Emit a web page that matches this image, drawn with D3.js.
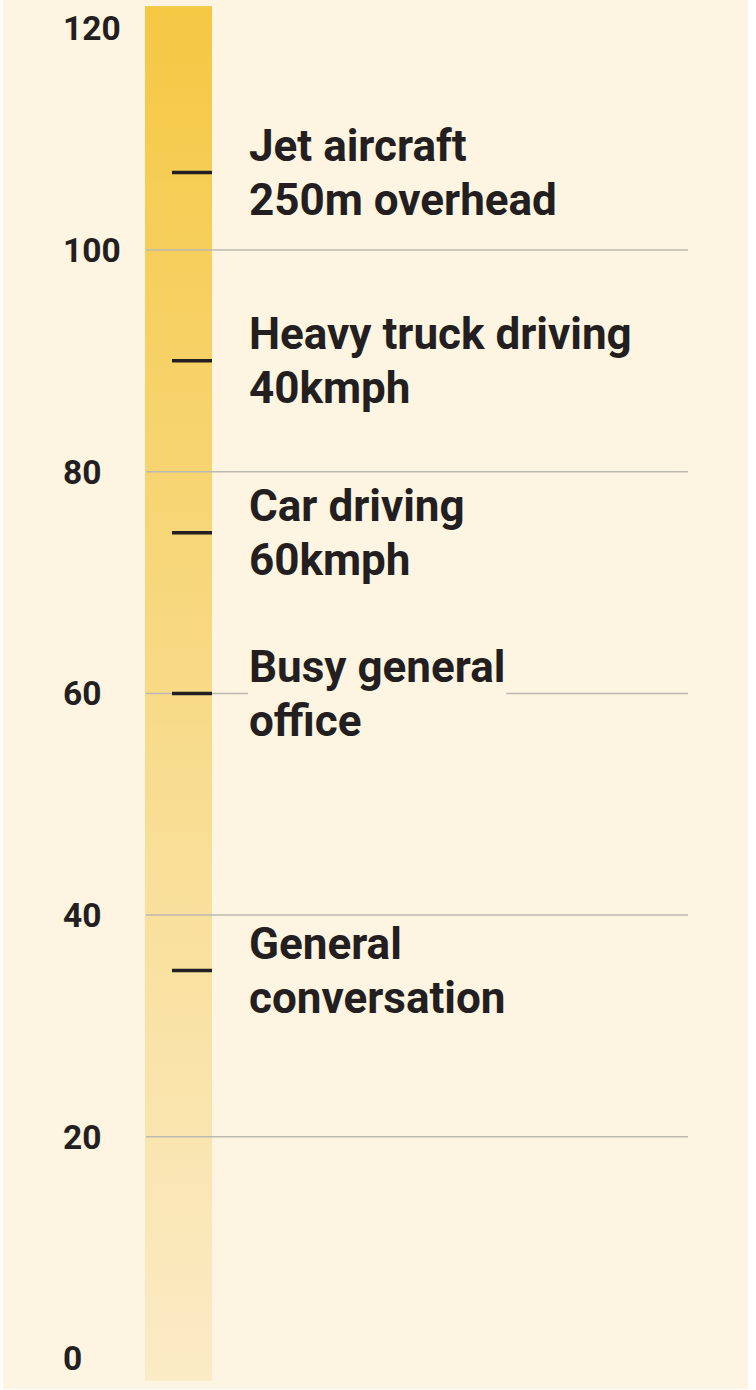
<!DOCTYPE html>
<html>
<head>
<meta charset="utf-8">
<script src="https://cdn.jsdelivr.net/npm/d3@7"></script>
<style>
  html, body { margin: 0; padding: 0; background: #ffffff; }
  svg { display: block; }
</style>
</head>
<body>
<svg id="chart" width="756" height="1390"></svg>
<script>
// ---- data ----
const tickValues = [0, 20, 40, 60, 80, 100, 120];
const gridValues = [20, 40, 60, 80, 100];
const sourceNames = [
  ["Jet aircraft", "250m overhead"],
  ["Heavy truck driving", "40kmph"],
  ["Car driving", "60kmph"],
  ["Busy general", "office"],
  ["General", "conversation"]
];
const decibels = [107, 90, 74.5, 60, 35];
const barExtent = [-2, 122];

// ---- layout ----
const bg = "#fdf4e1";
const ink = "#231f20";
const svg = d3.select("#chart");

svg.append("rect").attr("x", 3).attr("y", 0).attr("width", 745).attr("height", 1389).attr("fill", bg);

const y = d3.scaleLinear().domain([0, 120]).range([1358.5, 28.3]);
const barX0 = 145, barX1 = 212;

// gradient
const defs = svg.append("defs");
const grad = defs.append("linearGradient").attr("id", "barGrad")
  .attr("x1", 0).attr("y1", 0).attr("x2", 0).attr("y2", 1);
grad.append("stop").attr("offset", "0%").attr("stop-color", "#f5c843");
grad.append("stop").attr("offset", "55%").attr("stop-color", "#f8dc8e");
grad.append("stop").attr("offset", "100%").attr("stop-color", "#fbebc6");

svg.append("rect")
  .attr("x", barX0).attr("width", barX1 - barX0)
  .attr("y", y(barExtent[1])).attr("height", y(barExtent[0]) - y(barExtent[1]))
  .attr("fill", "url(#barGrad)");

// gridlines
svg.append("g").selectAll("line").data(gridValues).join("line")
  .attr("x1", 146).attr("x2", 688)
  .attr("y1", d => y(d)).attr("y2", d => y(d))
  .attr("stroke", "#bcb9b2").attr("stroke-width", 1.5);

// tick labels
svg.append("g").selectAll("text").data(tickValues).join("text")
  .attr("x", 63).attr("y", d => y(d))
  .attr("dy", "0.355em")
  .attr("font-family", "Roboto, 'Open Sans', sans-serif")
  .attr("font-weight", 700)
  .attr("font-size", 33.5)
  .attr("fill", ink)
  .text(d => d);

// labels with background knock-out
const labelFont = "Roboto, 'Open Sans', sans-serif";
const fs = 44, lineH = 54;
const labelG = svg.append("g");
sourceNames.forEach((lines, i) => {
  const cy = y(decibels[i]);
  const g = labelG.append("g");
  const bgG = g.append("g");
  lines.forEach((t, j) => {
    const tx = g.append("text")
      .attr("x", 249)
      .attr("y", cy - 11.5 + j * lineH)
      .attr("font-family", labelFont)
      .attr("font-weight", 700)
      .attr("font-size", fs)
      .attr("fill", ink)
      .text(t);
    const bb = tx.node().getBBox();
    bgG.append("rect")
      .attr("x", bb.x - 1).attr("y", bb.y)
      .attr("width", bb.width + 2).attr("height", bb.height + 3)
      .attr("fill", bg);
  });
});

// markers
svg.append("g").selectAll("line").data(decibels).join("line")
  .attr("x1", 172).attr("x2", 212)
  .attr("y1", d => y(d)).attr("y2", d => y(d))
  .attr("stroke", ink).attr("stroke-width", 3.5);
</script>
</body>
</html>
